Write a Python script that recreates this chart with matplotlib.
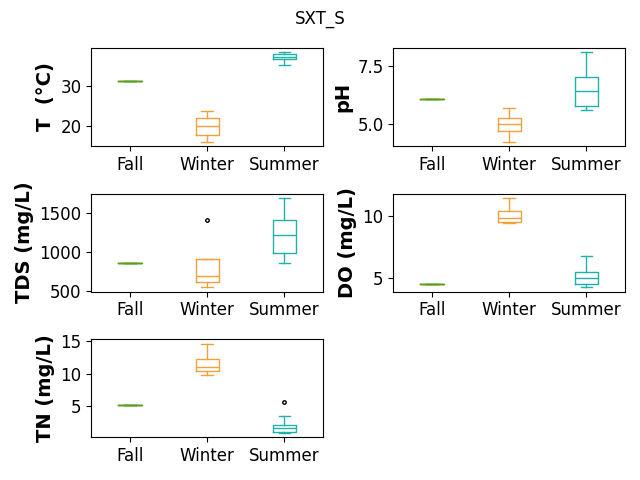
import matplotlib
matplotlib.use("Agg")
import matplotlib.pyplot as plt

seasons = ["Fall", "Winter", "Summer"]
colores = ["#5b9e1a", "#f0a03c", "#20b2aa"]

# estadisticos: [whislo, q1, med, q3, whishi] por estacion
T_stats = [[31.4, 31.4, 31.4, 31.4, 31.4],
           [16.25, 17.9, 20.0, 22.2, 23.75],
           [35.4, 36.7, 37.3, 37.9, 38.4]]
T_fliers = [[], [], []]

pH_stats = [[6.09, 6.09, 6.09, 6.09, 6.09],
            [4.22, 4.66, 4.97, 5.26, 5.70],
            [5.61, 5.78, 6.41, 7.01, 8.10]]
pH_fliers = [[], [], []]

TDS_stats = [[867, 867, 867, 867, 867],
             [554, 625, 699, 918, 918],
             [867, 996, 1216, 1410, 1695]]
TDS_fliers = [[], [1410], []]

DO_stats = [[4.54, 4.54, 4.54, 4.54, 4.54],
            [9.47, 9.55, 9.87, 10.44, 11.49],
            [4.27, 4.56, 5.05, 5.49, 6.78]]
DO_fliers = [[], [], []]

TN_stats = [[5.25, 5.25, 5.25, 5.25, 5.25],
            [9.85, 10.46, 11.0, 12.3, 14.6],
            [0.96, 1.16, 1.67, 2.13, 3.57]]
TN_fliers = [[], [], [5.71]]

variables = [
    ("T  (°C)", T_stats, T_fliers),
    ("pH", pH_stats, pH_fliers),
    ("TDS (mg/L)", TDS_stats, TDS_fliers),
    ("DO (mg/L)", DO_stats, DO_fliers),
    ("TN (mg/L)", TN_stats, TN_fliers),
]

fig, axes = plt.subplots(3, 2, figsize=(6.4, 4.8))
axes = axes.flatten()

for ax, (nombre, stats, fliers) in zip(axes, variables):
    for i, (s, f) in enumerate(zip(stats, fliers)):
        d = {"whislo": s[0], "q1": s[1], "med": s[2], "q3": s[3],
             "whishi": s[4], "fliers": f, "label": seasons[i]}
        c = colores[i]
        ax.bxp([d], positions=[i + 1], widths=0.3,
               boxprops=dict(color=c), whiskerprops=dict(color=c),
               capprops=dict(color=c), medianprops=dict(color=c),
               flierprops=dict(marker="o", markersize=2.5,
                               markerfacecolor="white",
                               markeredgecolor="black"))
    ax.set_xticks([1, 2, 3])
    ax.set_xticklabels(seasons, fontsize=12)
    ax.tick_params(axis="y", labelsize=12)
    ax.set_xlim(0.5, 3.5)
    ax.set_ylabel(nombre, fontsize=14, fontweight="bold")

fig.delaxes(axes[5])
fig.suptitle("SXT_S", fontsize=12)
plt.tight_layout()
plt.savefig("out.png", dpi=100)
